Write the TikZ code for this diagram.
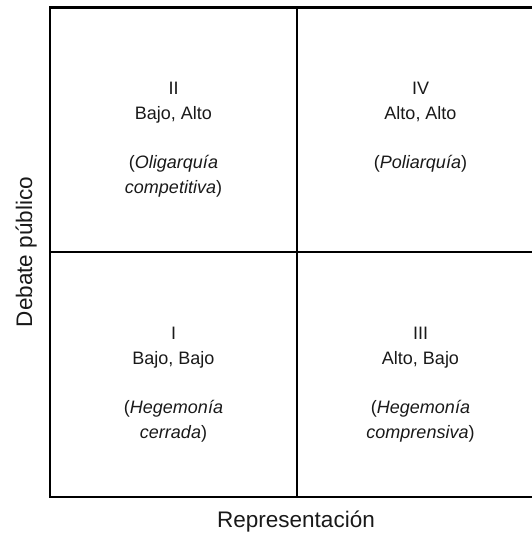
\documentclass[tikz,border=0pt]{standalone}
\usepackage{fontspec}
\setmainfont{Liberation Sans}
\usepackage{tikz}
\usetikzlibrary{positioning}

\begin{document}
\begin{tikzpicture}[x=1pt, y=1pt,
  cell/.style={align=center, inner sep=0pt, anchor=north, text=black!90,
    font=\fontsize{18}{24.5}\selectfont},
  axis/.style={inner sep=0pt, anchor=base, text=black!90,
    font=\fontsize{22.5}{27}\selectfont},
  rule/.style={line width=2.8pt}]
\path[use as bounding box, clip] (0,0) rectangle (532,535);
\draw[rule] (50,38) rectangle (544,527.5);
\draw[rule] (297,38) -- (297,527.5);
\draw[rule] (50,283) -- (544,283);
% the four cells
\node[cell] (q2) at (173.5,453) {II\\Bajo, Alto\\[25pt](\textit{Oligarquía}\\\textit{competitiva})};
\node[cell] (q4) at (420.5,453) {IV\\Alto, Alto\\[25pt](\textit{Poliarquía})};
\node[cell] (q1) at (173.5,208) {I\\Bajo, Bajo\\[25pt](\textit{Hegemonía}\\\textit{cerrada})};
\node[cell] (q3) at (420.5,208) {III\\Alto, Bajo\\[25pt](\textit{Hegemonía}\\\textit{comprensiva})};
% axes
\node[axis] (xlab) at (296,7) {Representación};
\node[axis, rotate=90] (ylab) at (32,283) {Debate público};
\end{tikzpicture}
\end{document}
